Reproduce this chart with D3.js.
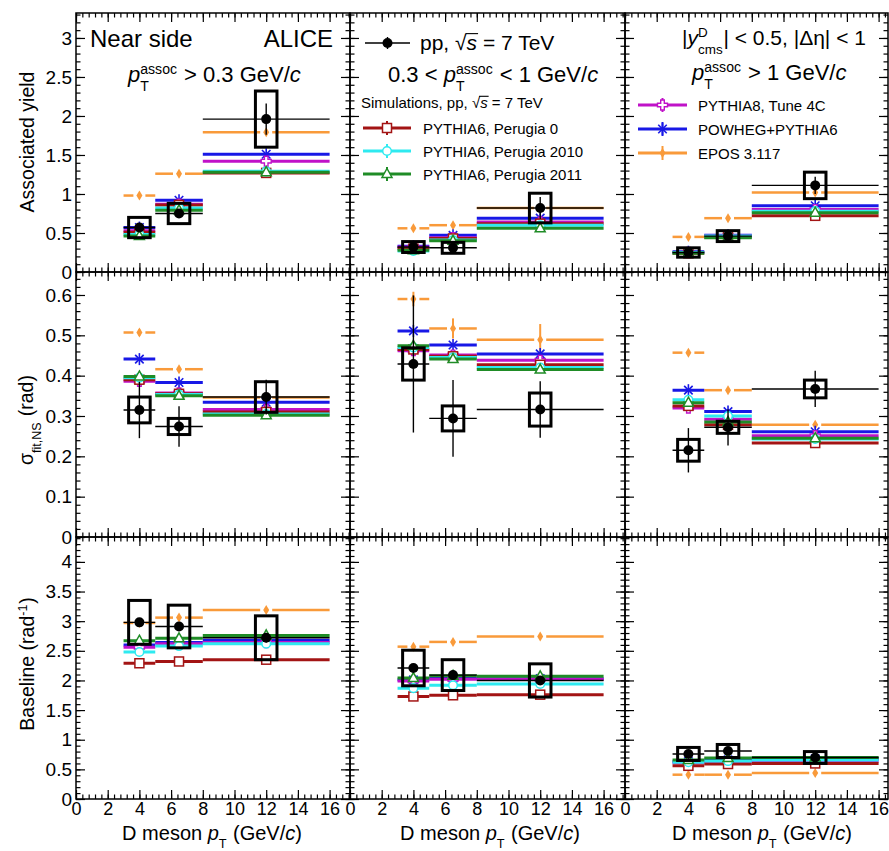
<!DOCTYPE html>
<html><head><meta charset="utf-8">
<script src="https://cdn.jsdelivr.net/npm/d3@7"></script>
<style>
body{margin:0;background:#fff}
text{font-family:"Liberation Sans",Arial,Helvetica,sans-serif;white-space:pre}
</style>
</head><body>
<svg id="c" width="889" height="851" xmlns="http://www.w3.org/2000/svg"></svg>
<script>
// ---------------- DATA ----------------
const ptCenters = [4, 6.5, 12];
const binLo = [3, 5, 8];
const binHi = [5, 8, 16];
const observables = ["yield", "sigma", "baseline"];
const assocRanges = ["> 0.3", "0.3-1", "> 1"];

// data [panel][bin]
const yieldData = [[0.57, 0.75, 1.96], [0.32, 0.31, 0.82], [0.25, 0.46, 1.11]];
const yieldStat = [[0.03, 0.04, 0.20], [0.02, 0.02, 0.14], [0.02, 0.03, 0.11]];
const yieldSys  = [[0.13, 0.13, 0.36], [0.07, 0.07, 0.19], [0.06, 0.07, 0.17]];

const sigmaData = [[0.315, 0.274, 0.347], [0.429, 0.294, 0.316], [0.215, 0.272, 0.367]];
const sigmaStat = [[0.070, 0.050, 0.043], [0.170, 0.095, 0.070], [0.055, 0.045, 0.045]];
const sigmaSys  = [[0.032, 0.020, 0.038], [0.040, 0.031, 0.041], [0.027, 0.015, 0.022]];

const baseData = [[2.98, 2.91, 2.72], [2.21, 2.09, 2.00], [0.76, 0.81, 0.70]];
const baseStat = [[0.05, 0.05, 0.08], [0.05, 0.05, 0.06], [0.03, 0.03, 0.03]];
const baseSys  = [[0.37, 0.36, 0.37], [0.30, 0.26, 0.28], [0.11, 0.11, 0.10]];

// models [observable][panel][bin]
const perugia0 = [
  [[0.51, 0.86, 1.27], [0.30, 0.43, 0.62], [0.24, 0.45, 0.72]],
  [[0.390, 0.355, 0.310], [0.465, 0.448, 0.427], [0.325, 0.278, 0.233]],
  [[2.29, 2.32, 2.35], [1.73, 1.75, 1.76], [0.56, 0.59, 0.60]]
];
const perugia2010 = [
  [[0.48, 0.82, 1.29], [0.27, 0.41, 0.60], [0.25, 0.46, 0.78]],
  [[0.395, 0.353, 0.305], [0.470, 0.445, 0.420], [0.340, 0.300, 0.243]],
  [[2.48, 2.58, 2.62], [1.87, 1.92, 1.94], [0.62, 0.64, 0.66]]
];
const perugia2011 = [
  [[0.46, 0.79, 1.28], [0.28, 0.40, 0.56], [0.24, 0.44, 0.76]],
  [[0.398, 0.350, 0.302], [0.474, 0.441, 0.415], [0.333, 0.285, 0.245]],
  [[2.67, 2.71, 2.76], [2.04, 2.08, 2.07], [0.66, 0.69, 0.70]]
];
const pythia8 = [
  [[0.53, 0.87, 1.42], [0.32, 0.44, 0.64], [0.25, 0.46, 0.80]],
  [[0.386, 0.357, 0.316], [0.462, 0.451, 0.438], [0.320, 0.292, 0.251]],
  [[2.56, 2.62, 2.64], [1.99, 2.02, 2.02], [0.61, 0.63, 0.64]]
];
const powheg = [
  [[0.57, 0.92, 1.51], [0.33, 0.47, 0.69], [0.26, 0.47, 0.85]],
  [[0.441, 0.383, 0.334], [0.511, 0.476, 0.454], [0.364, 0.311, 0.261]],
  [[2.60, 2.64, 2.68], [2.01, 2.04, 2.03], [0.63, 0.66, 0.68]]
];
const epos = [
  [[0.98, 1.26, 1.79], [0.56, 0.60, 0.82], [0.45, 0.69, 1.02]],
  [[0.507, 0.416, 0.346], [0.590, 0.517, 0.489], [0.457, 0.364, 0.278]],
  [[2.97, 3.06, 3.19], [2.57, 2.65, 2.74], [0.41, 0.41, 0.44]]
];
const eposSigmaErr = [[0.008, 0.008, 0.006], [0.018, 0.025, 0.039], [0.006, 0.006, 0.006]];

const modelNames = ["PYTHIA6, Perugia 0", "PYTHIA6, Perugia 2010", "PYTHIA6, Perugia 2011",
                    "PYTHIA8, Tune 4C", "POWHEG+PYTHIA6", "EPOS 3.117"];
const modelColors = ["#a31414", "#2eeaf0", "#1f8c26", "#c012c8", "#1818e6", "#f99a3a"];
const modelMarkers = ["square", "circle", "triangle", "cross", "star", "diamond"];
const modelValues = [perugia0, perugia2010, perugia2011, pythia8, powheg, epos];

const yDomainsMax = [3.32, 0.657, 4.42];
const yMajorStep = [0.5, 0.1, 0.5];
const yMinorStep = [0.1, 0.02, 0.1];

// ---------------- LAYOUT ----------------
const svg = d3.select("#c");
const colX = [76, 350, 625];
const colW = [274, 275, 263];
const pxPerUnit = 15.85;
const rowY = [13, 272, 537];
const rowH = [259, 265, 262];
const FONT = '"Liberation Sans",Arial,Helvetica,sans-serif';

function rich(parent, x, y, parts, size, anchor, rotate) {
  const g = parent.append("g");
  let cx = 0;
  const fs = size * 0.64;
  parts.forEach(p => {
    if (typeof p === "string") p = { t: p };
    if (p.sup !== undefined || p.sub !== undefined) {
      let w1 = 0, w2 = 0;
      if (p.sup !== undefined) {
        const s = g.append("text").attr("x", cx).attr("y", -size * 0.36).attr("font-size", fs).text(p.sup);
        w1 = s.node().getComputedTextLength();
      }
      if (p.sub !== undefined) {
        const s = g.append("text").attr("x", cx).attr("y", size * 0.42).attr("font-size", fs).text(p.sub);
        w2 = s.node().getComputedTextLength();
      }
      cx += Math.max(w1, w2) + size * 0.04;
    } else {
      const s = g.append("text").attr("x", cx).attr("y", 0).attr("font-size", size)
        .attr("font-style", p.it ? "italic" : null).text(p.t);
      const w = s.node().getComputedTextLength();
      if (p.over) {
        g.append("line").attr("x1", cx - 1).attr("x2", cx + w + 1)
          .attr("y1", -size * 0.78).attr("y2", -size * 0.78)
          .attr("stroke", "#000").attr("stroke-width", 1.1);
      }
      cx += w;
    }
  });
  const off = anchor === "middle" ? -cx / 2 : anchor === "end" ? -cx : 0;
  g.attr("transform", `translate(${x},${y}) rotate(${rotate || 0}) translate(${off},0)`);
  return g;
}

function marker(g, type, x, y, color) {
  switch (type) {
    case "dot":
      g.append("circle").attr("cx", x).attr("cy", y).attr("r", 5).attr("fill", "#000"); break;
    case "square":
      g.append("rect").attr("x", x - 4.5).attr("y", y - 4.5).attr("width", 9).attr("height", 9)
        .attr("fill", "#fff").attr("stroke", color).attr("stroke-width", 1.5); break;
    case "circle":
      g.append("circle").attr("cx", x).attr("cy", y).attr("r", 4.3)
        .attr("fill", "#fff").attr("stroke", color).attr("stroke-width", 1.5); break;
    case "triangle":
      g.append("path").attr("d", `M${x},${y - 5.5}L${x + 5},${y + 3.5}L${x - 5},${y + 3.5}Z`)
        .attr("fill", "#fff").attr("stroke", color).attr("stroke-width", 1.5); break;
    case "cross": {
      const a = 1.8, L = 5;
      const d = `M${x - a},${y - L}H${x + a}V${y - a}H${x + L}V${y + a}H${x + a}V${y + L}H${x - a}V${y + a}H${x - L}V${y - a}H${x - a}Z`;
      g.append("path").attr("d", d).attr("fill", "#fff").attr("stroke", color).attr("stroke-width", 1.4); break;
    }
    case "star": {
      const L = 6;
      [0, 45, 90, 135].forEach(a => {
        const r = a * Math.PI / 180;
        g.append("line").attr("x1", x - L * Math.cos(r)).attr("y1", y - L * Math.sin(r))
          .attr("x2", x + L * Math.cos(r)).attr("y2", y + L * Math.sin(r))
          .attr("stroke", color).attr("stroke-width", 1.6);
      });
      break;
    }
    case "diamond":
      g.append("path").attr("d", `M${x},${y - 5}L${x + 3},${y}L${x},${y + 5}L${x - 3},${y}Z`)
        .attr("fill", color); break;
  }
}

const fmt = d3.format("~g");
function rng(max, step) {
  const out = [];
  for (let i = 0; i * step <= max + 1e-9; i++) out.push(+(i * step).toFixed(4));
  return out;
}

const dataVals = [yieldData, sigmaData, baseData];
const dataStat = [yieldStat, sigmaStat, baseStat];
const dataSys = [yieldSys, sigmaSys, baseSys];
const drawOrder = [5, 4, 3, 0, 1, 2];

for (let r = 0; r < 3; r++) {
  for (let c = 0; c < 3; c++) {
    const w = colW[c], h = rowH[r];
    const xs = d3.scaleLinear().domain([0, w / pxPerUnit]).range([0, w]);
    const ys = d3.scaleLinear().domain([0, yDomainsMax[r]]).range([h, 0]);
    const g = svg.append("g").attr("transform", `translate(${colX[c]},${rowY[r]})`);

    // models
    drawOrder.forEach(m => {
      const vals = modelValues[m][r][c];
      const col = modelColors[m];
      const mg = g.append("g");
      vals.forEach((v, i) => {
        const yy = ys(v), xc = xs(ptCenters[i]);
        if (m === 5) {
          mg.append("line").attr("x1", xs(binLo[i])).attr("x2", xc - 6).attr("y1", yy).attr("y2", yy)
            .attr("stroke", col).attr("stroke-width", 2.5);
          mg.append("line").attr("x1", xc + 6).attr("x2", xs(binHi[i])).attr("y1", yy).attr("y2", yy)
            .attr("stroke", col).attr("stroke-width", 2.5);
          if (r === 1) {
            const e = eposSigmaErr[c][i];
            mg.append("line").attr("x1", xc).attr("x2", xc).attr("y1", ys(v - e)).attr("y2", ys(v + e))
              .attr("stroke", col).attr("stroke-width", 2);
          }
        } else {
          mg.append("line").attr("x1", xs(binLo[i])).attr("x2", xs(binHi[i])).attr("y1", yy).attr("y2", yy)
            .attr("stroke", col).attr("stroke-width", 3);
        }
        marker(mg, modelMarkers[m], xc, yy, col);
      });
    });

    // data
    const dg = g.append("g");
    dataVals[r][c].forEach((v, i) => {
      const xc = xs(ptCenters[i]), yy = ys(v);
      const s = dataSys[r][c][i], st = dataStat[r][c][i];
      dg.append("rect").attr("x", xs(ptCenters[i] - 0.68)).attr("width", xs(1.36) - xs(0))
        .attr("y", ys(v + s)).attr("height", ys(v - s) - ys(v + s))
        .attr("fill", "none").attr("stroke", "#000").attr("stroke-width", 3);
      dg.append("line").attr("x1", xs(binLo[i])).attr("x2", xs(binHi[i])).attr("y1", yy).attr("y2", yy)
        .attr("stroke", "#000").attr("stroke-width", 1.4);
      dg.append("line").attr("x1", xc).attr("x2", xc).attr("y1", ys(v - st)).attr("y2", ys(v + st))
        .attr("stroke", "#000").attr("stroke-width", 1.4);
      marker(dg, "dot", xc, yy, "#000");
    });

    // axes
    const xMaj = rng(xs.domain()[1], 2), xMin = rng(xs.domain()[1], 0.4);
    const yMaj = rng(yDomainsMax[r], yMajorStep[r]), yMin = rng(yDomainsMax[r], yMinorStep[r]);
    const style = sel => {
      sel.select(".domain").remove();
      sel.attr("font-family", FONT).attr("font-size", 19);
      sel.selectAll("line").attr("stroke", "#000").attr("stroke-width", 1.2);
      sel.selectAll("text").attr("fill", "#000");
    };
    const blank = () => "";
    // bottom
    g.append("g").attr("transform", `translate(0,${h})`)
      .call(d3.axisBottom(xs).tickValues(xMin).tickSize(-4.5).tickFormat(blank)).call(style);
    g.append("g").attr("transform", `translate(0,${h})`)
      .call(d3.axisBottom(xs).tickValues(xMaj).tickSize(-9).tickPadding(3)
        .tickFormat(r === 2 ? fmt : blank)).call(style).attr("font-size", 18);
    // top
    g.append("g").call(d3.axisTop(xs).tickValues(xMin).tickSize(-4.5).tickFormat(blank)).call(style);
    g.append("g").call(d3.axisTop(xs).tickValues(xMaj).tickSize(-9).tickFormat(blank)).call(style);
    // left
    g.append("g").call(d3.axisLeft(ys).tickValues(yMin).tickSize(-4.5).tickFormat(blank)).call(style);
    g.append("g").call(d3.axisLeft(ys).tickValues(yMaj).tickSize(-9).tickPadding(4)
      .tickFormat(c === 0 ? fmt : blank)).call(style);
    // right
    g.append("g").attr("transform", `translate(${w},0)`)
      .call(d3.axisRight(ys).tickValues(yMin).tickSize(-4.5).tickFormat(blank)).call(style);
    g.append("g").attr("transform", `translate(${w},0)`)
      .call(d3.axisRight(ys).tickValues(yMaj).tickSize(-9).tickFormat(blank)).call(style);

    g.append("rect").attr("width", w).attr("height", h).attr("fill", "none")
      .attr("stroke", "#000").attr("stroke-width", 1.5);
  }
}

// ---------------- TEXT ----------------
rich(svg, 90, 47, ["Near side"], 24);
rich(svg, 333, 47, ["ALICE"], 24, "end");
rich(svg, 128, 82, [{ t: "p", it: true }, { sup: "assoc", sub: "T" }, " > 0.3 GeV/", { t: "c", it: true }], 22);

// data legend
svg.append("line").attr("x1", 365).attr("x2", 410).attr("y1", 43).attr("y2", 43).attr("stroke", "#000").attr("stroke-width", 1.4);
svg.append("line").attr("x1", 387.5).attr("x2", 387.5).attr("y1", 37).attr("y2", 49).attr("stroke", "#000").attr("stroke-width", 1.4);
marker(svg, "dot", 387.5, 43, "#000");
rich(svg, 420, 50, ["pp, ", "√", { t: "s", it: true, over: true }, " = 7 TeV"], 21);
rich(svg, 388, 82, ["0.3 < ", { t: "p", it: true }, { sup: "assoc", sub: "T" }, " < 1 GeV/", { t: "c", it: true }], 22);
rich(svg, 361, 108, ["Simulations, pp, ", "√", { t: "s", it: true, over: true }, " = 7 TeV"], 15);

rich(svg, 682, 45, ["|", { t: "y", it: true }, { sup: "D", sub: "cms" }, "| < 0.5, |Δη| < 1"], 21);
rich(svg, 692, 80, [{ t: "p", it: true }, { sup: "assoc", sub: "T" }, " > 1 GeV/", { t: "c", it: true }], 22);

// model legends
const legPos = [
  [363, 411, 423, 128], [363, 411, 423, 151], [363, 411, 423, 174],
  [638, 687, 698, 105], [638, 687, 698, 129], [638, 687, 698, 153]
];
modelNames.forEach((name, m) => {
  const [x1, x2, tx, yy] = legPos[m];
  const col = modelColors[m];
  const xc = (x1 + x2) / 2;
  svg.append("line").attr("x1", x1).attr("x2", x2).attr("y1", yy).attr("y2", yy).attr("stroke", col).attr("stroke-width", 3);
  svg.append("line").attr("x1", xc).attr("x2", xc).attr("y1", yy - 7).attr("y2", yy + 7).attr("stroke", col).attr("stroke-width", 2);
  marker(svg, modelMarkers[m], xc, yy, col);
  rich(svg, tx, yy + 5.5, [name], 15);
});

// axis titles
rich(svg, 34, 142, ["Associated yield"], 19.5, "middle", -90);
rich(svg, 33, 420, ["σ", { sub: "fit,NS" }, " (rad)"], 19.5, "middle", -90);
rich(svg, 34, 664, ["Baseline (rad", { sup: "-1" }, ")"], 19.5, "middle", -90);
[212, 490, 762].forEach(cx => {
  rich(svg, cx, 840, ["D meson ", { t: "p", it: true }, { sub: "T" }, " (GeV/", { t: "c", it: true }, ")"], 20, "middle");
});
</script>
</body></html>
